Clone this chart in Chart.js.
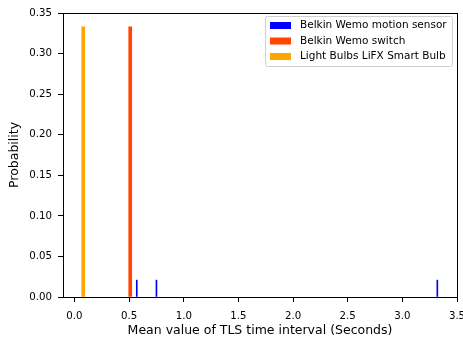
<!DOCTYPE html>
<html><head><meta charset="utf-8">
<script src="https://cdn.jsdelivr.net/npm/chart.js@4.4.0/dist/chart.umd.min.js"></script>
<style>html,body{margin:0;padding:0;background:#fff}#wrap{width:463px;height:340px}</style>
</head><body><div id="wrap"><canvas id="c" width="463" height="340"></canvas></div>
<script>
const seriesNames = ["Belkin Wemo motion sensor", "Belkin Wemo switch", "Light Bulbs LiFX Smart Bulb"];
const seriesColors = ["#0000ff", "#ff4500", "#ffa500"];
const motionX = [0.57, 0.75, 3.32];
const motionY = [0.0208, 0.0208, 0.0208];
const switchX = [0.51];
const switchY = [0.333];
const bulbX = [0.08];
const bulbY = [0.333];
const xTicks = [0.0, 0.5, 1.0, 1.5, 2.0, 2.5, 3.0, 3.5];
const yTicks = [0.00, 0.05, 0.10, 0.15, 0.20, 0.25, 0.30, 0.35];

const pts = (xs, ys) => xs.map((x, i) => ({x: x, y: ys[i]}));
const FONT = "'DejaVu Sans', sans-serif";

const framePlugin = {
  id: 'frame',
  afterDraw(chart) {
    const {ctx, chartArea: a} = chart;
    ctx.save();
    ctx.strokeStyle = '#000'; ctx.lineWidth = 1;
    ctx.strokeRect(Math.round(a.left) + 0.5, Math.round(a.top) + 0.5, Math.round(a.right - a.left), Math.round(a.bottom - a.top));
    // legend
    const lx = 265.5, ly = 16.5, lw = 187, lh = 50;
    ctx.fillStyle = 'rgba(255,255,255,0.8)';
    ctx.strokeStyle = '#d0d0d0';
    ctx.beginPath();
    if (ctx.roundRect) ctx.roundRect(lx, ly, lw, lh, 2); else ctx.rect(lx, ly, lw, lh);
    ctx.fill(); ctx.stroke();
    ctx.font = "normal 10.5px 'DejaVu Sans', sans-serif";
    ctx.textBaseline = 'middle';
    ctx.textAlign = 'left';
    chart.data.datasets.forEach((ds, i) => {
      const cy = ly + 9 + i * 15.5;
      ctx.fillStyle = ds.backgroundColor;
      ctx.fillRect(lx + 4.5, cy - 3.5, 21, 7);
      ctx.fillStyle = '#000';
      ctx.fillText(ds.label, lx + 34.5, cy);
    });
    ctx.restore();
  }
};

new Chart(document.getElementById('c'), {
  type: 'bar',
  data: {
    datasets: [
      {label: seriesNames[0], data: pts(motionX, motionY), backgroundColor: seriesColors[0], barThickness: 1, grouped: false},
      {label: seriesNames[1], data: pts(switchX, switchY), backgroundColor: seriesColors[1], barThickness: 3, grouped: false},
      {label: seriesNames[2], data: pts(bulbX, bulbY), backgroundColor: seriesColors[2], barThickness: 3, grouped: false}
    ]
  },
  options: {
    responsive: false,
    animation: false,
    layout: {padding: {top: 13, right: 6, left: 0, bottom: 0}},
    plugins: {legend: {display: false}, tooltip: {enabled: false}},
    scales: {
      x: {
        type: 'linear', min: -0.105, max: 3.5, offset: false,
        afterBuildTicks: s => { s.ticks = xTicks.map(v => ({value: v})); },
        afterFit: s => { s.height = 43; s.paddingLeft = 0; s.paddingRight = 0; },
        grid: {offset: false, drawOnChartArea: false, drawTicks: true, tickLength: 5, tickColor: '#000'},
        border: {display: false},
        ticks: {color: '#000', font: {family: FONT, size: 10.2}, padding: 8, maxRotation: 0, callback: v => v.toFixed(1)},
        title: {display: true, text: 'Mean value of TLS time interval (Seconds)', color: '#000', font: {family: FONT, size: 12.5}, padding: {top: 0, bottom: 1.5}}
      },
      y: {
        min: 0, max: 0.35,
        afterBuildTicks: s => { s.ticks = yTicks.map(v => ({value: v})); },
        afterFit: s => { s.width = 63; s.paddingTop = 0; s.paddingBottom = 0; },
        grid: {offset: false, drawOnChartArea: false, drawTicks: true, tickLength: 5, tickColor: '#000'},
        border: {display: false},
        ticks: {color: '#000', font: {family: FONT, size: 10.2}, padding: 6, callback: v => v.toFixed(2)},
        title: {display: true, text: 'Probability', color: '#000', font: {family: FONT, size: 12.5}, padding: {top: 7, bottom: 0}}
      }
    }
  },
  plugins: [framePlugin]
});
</script></body></html>
